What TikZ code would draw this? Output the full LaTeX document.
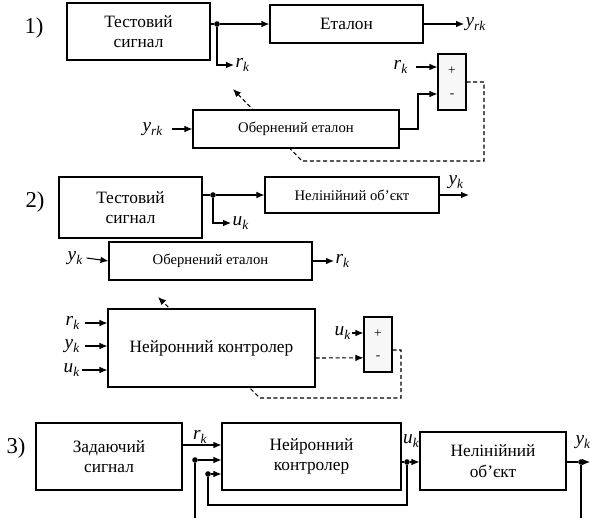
\documentclass[tikz,border=0pt]{standalone}
\usepackage{fontspec}
\setmainfont{Liberation Serif}
\usetikzlibrary{arrows.meta,calc}
\pgfdeclarelayer{bg}
\pgfsetlayers{bg,main}
\newcommand\lb[2]{\textit{#1}\raisebox{-0.45ex}{\fontsize{10}{10}\selectfont\textit{#2}}}
\tikzset{
 blk/.style={draw, fill=white, line width=0.8pt, inner sep=0pt, align=center, font=\fontsize{13}{15.5}\selectfont},
 smalltext/.style={font=\fontsize{11}{12}\selectfont},
 sumbox/.style={draw, fill=black!3, line width=0.8pt, minimum width=21pt, inner sep=0pt},
 pm/.style={inner sep=0pt, font=\fontsize{10}{10}\selectfont},
 lbl/.style={inner sep=1pt, font=\fontsize{14.5}{16}\selectfont},
 wire/.style={line width=0.8pt},
 arr/.style={wire, -{Latex[length=6pt,width=5pt]}},
 dsh/.style={line width=0.8pt, dash pattern=on 3pt off 2pt},
 darr/.style={dsh, -{Latex[length=6pt,width=5pt]}},
 jdot/.style={circle, fill=black, inner sep=0pt, minimum size=4.2pt},
 num/.style={inner sep=0pt, font=\fontsize{17}{19}\selectfont},
}
\begin{document}
\begin{tikzpicture}[x=0.75pt,y=-0.75pt]
\useasboundingbox (0,0) rectangle (590,518);

% ---------- 1) ----------
\node[num] (n1) at (34,28) {1)};
\node[blk, minimum width=107.25pt, minimum height=42.75pt] (ts1) at (138.5,31.5) {Тестовий\\сигнал};
\node[blk, minimum width=114.75pt, minimum height=28.5pt] (et1) at (346.5,24) {Еталон};
\node[sumbox, minimum height=42pt] (sum1) at (452,82) {};
\node[pm] (p1) at (452,71) {+};
\node[pm] (m1) at (452,96) {-};
\node[blk, smalltext, minimum width=154.5pt, minimum height=28.5pt] (ob1) at (296,129) {Обернений еталон};
\node[jdot] (j1) at (217,24) {};
\node[lbl, anchor=west] (rk1) at (234,65) {\lb{r}{k}};
\node[lbl, anchor=west] (yrk1) at (464,24) {\lb{y}{rk}};
\node[lbl, anchor=east] (rkin1) at (409,67) {\lb{r}{k}};
\node[lbl, anchor=east] (yrkin1) at (164,129) {\lb{y}{rk}};
\coordinate (c1a) at (418,94);
\coordinate (f1a) at (484,82);
\coordinate (f1b) at (484,161);
\coordinate (f1c) at (302,161);
\coordinate (f1d) at (233,89);

\draw[wire] (ts1.east |- j1) -- (j1);
\draw[arr] (j1) -- (et1.west);
\draw[arr] (j1) |- (rk1.west);
\draw[arr] (et1.east) -- (yrk1.west);
\draw[arr] ([xshift=5pt]rkin1.east) -- (rkin1.east -| sum1.west);
\draw[arr] ([xshift=6pt]yrkin1.east) -- (ob1.west);
\draw[arr] (ob1.east) -| (c1a) -- (c1a -| sum1.west);
\begin{pgfonlayer}{bg}
\draw[darr] (sum1.east) -- (f1a) -- (f1b) -- (f1c) -- (f1d);
\end{pgfonlayer}

% ---------- 2) ----------
\node[num] (n2) at (35,202) {2)};
\node[blk, minimum width=107.25pt, minimum height=45.75pt] (ts2) at (130.5,207.5) {Тестовий\\сигнал};
\node[blk, font=\fontsize{11}{13}\selectfont, minimum width=130.5pt, minimum height=27pt] (no2) at (352,195) {Нелінійний об’єкт};
\node[blk, smalltext, minimum width=152.25pt, minimum height=28.5pt] (ob2) at (210.5,261) {Обернений еталон};
\node[blk, minimum width=155.25pt, minimum height=58.5pt] (nk2) at (211.5,348) {Нейронний контролер};
\node[sumbox, minimum height=41.25pt] (sum2) at (378,344.5) {};
\node[pm] (p2) at (378,334) {+};
\node[pm] (m2) at (378,358) {-};
\node[jdot] (j2) at (213,195) {};
\node[lbl, anchor=west] (uk2) at (231,223) {\lb{u}{k}};
\coordinate (yk2e) at (469,195);
\node[lbl] (yk2) at (456,182) {\lb{y}{k}};
\node[lbl, anchor=east] (ykin2) at (84,258) {\lb{y}{k}};
\node[lbl, anchor=west] (rk2) at (334,261) {\lb{r}{k}};
\node[lbl, anchor=east] (rin2) at (81,323) {\lb{r}{k}};
\node[lbl, anchor=east] (yin2) at (81,346) {\lb{y}{k}};
\node[lbl, anchor=east] (uin2) at (81,370) {\lb{u}{k}};
\node[lbl, anchor=east] (ukin2) at (352,333) {\lb{u}{k}};
\coordinate (f2a) at (401,350);
\coordinate (f2b) at (401,398);
\coordinate (f2c) at (260,398);
\coordinate (f2d) at (158,297);

\draw[wire] (ts2.east |- j2) -- (j2);
\draw[arr] (j2) -- (no2.west);
\draw[arr] (j2) |- (uk2.west);
\draw[arr] (no2.east) -- (yk2e);
\draw[arr] ([xshift=2pt]ykin2.east) -- (ob2.west);
\draw[arr] (ob2.east) -- (rk2.west);
\draw[arr] ([xshift=3pt]rin2.east) -- (rin2.east -| nk2.west);
\draw[arr] ([xshift=3pt]yin2.east) -- (yin2.east -| nk2.west);
\draw[arr] ([xshift=1pt]uin2.east) -- (uin2.east -| nk2.west);
\draw[arr] (ukin2.east) -- (ukin2.east -| sum2.west);
\draw[darr] ([yshift=-7.5pt]nk2.east) -- ([yshift=-10pt]sum2.west);
\begin{pgfonlayer}{bg}
\draw[darr] (sum2.east |- f2a) -- (f2a) -- (f2b) -- (f2c) -- (f2d);
\end{pgfonlayer}

% ---------- 3) ----------
\node[num] (n3) at (16,448) {3)};
\node[blk, minimum width=109.5pt, minimum height=50.25pt] (zs3) at (109,456.5) {Задаючий\\сигнал};
\node[blk, minimum width=134.25pt, minimum height=50.25pt] (nk3) at (311.5,456.5) {Нейронний\\контролер};
\node[blk, minimum width=109.5pt, minimum height=43.5pt] (no3) at (493,461) {Нелінійний\\об’єкт};
\node[lbl] (rk3) at (200,437) {\lb{r}{k}};
\node[lbl] (uk3) at (411,441) {\lb{u}{k}};
\node[lbl] (yk3) at (583,442) {\lb{y}{k}};
\node[jdot] (d3a) at (195,460) {};
\node[jdot] (d3b) at (208,474) {};
\node[jdot] (d3c) at (407,462) {};
\node[jdot] (d3d) at (581,462) {};
\coordinate (b3a) at (195,518);
\coordinate (b3b) at (208,505);
\coordinate (b3c) at (407,505);
\coordinate (b3d) at (581,518);
\coordinate (e3) at (590,462);

\draw[arr] (zs3.east |- 0,445) -- (nk3.west |- 0,445);
\draw[arr] (d3a) -- (nk3.west |- d3a);
\draw[wire] (d3a) -- (b3a);
\draw[arr] (d3b) -- (nk3.west |- d3b);
\draw[wire] (d3b) -- (b3b) -- (b3c) -- (d3c);
\draw[wire] (nk3.east |- d3c) -- (d3c);
\draw[arr] (d3c) -- (no3.west |- d3c);
\draw[wire] (no3.east |- d3d) -- (d3d);
\draw[arr] (d3d) -- (e3);
\draw[wire] (d3d) -- (b3d);
\end{tikzpicture}
\end{document}
